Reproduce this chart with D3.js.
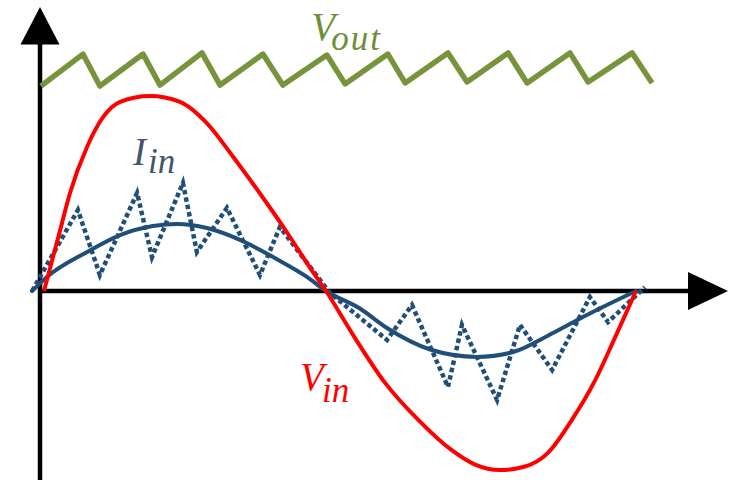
<!DOCTYPE html>
<html>
<head>
<meta charset="utf-8">
<script src="https://cdn.jsdelivr.net/npm/d3@7"></script>
<style>
  html, body { margin: 0; padding: 0; background: #fff; }
  svg { display: block; }
</style>
</head>
<body>
<div id="chart"></div>
<script>
"use strict";

// time in ms over one 20 ms mains period, values scaled so Vin peak = 1

// input voltage
var vinT = [0.1, 0.64, 0.97, 1.55, 2.08, 2.66, 3.66, 4.67, 5.58, 6.45, 7.36, 8.27, 9.04, 9.58,
            10.55, 11.56, 12.74, 13.75, 14.59, 15.43, 16.27, 17.04, 17.85, 18.62, 19.29, 20];
var vinV = [0, 0.31, 0.5, 0.74, 0.89, 0.97, 1.0, 0.97, 0.86, 0.69, 0.5, 0.3, 0.12, 0,
            -0.24, -0.47, -0.67, -0.81, -0.89, -0.918, -0.9, -0.83, -0.66, -0.46, -0.24, 0];

// input current, averaged
var iinT = [-0.3, 0.2, 1.55, 2.66, 3.76, 4.57, 5.58, 6.69, 7.8, 8.94, 9.58,
            10.72, 11.63, 13.08, 14.66, 15.87, 17.21, 18.35, 20];
var iinV = [0, 0.072, 0.2, 0.287, 0.333, 0.344, 0.323, 0.262, 0.174, 0.072, 0,
            -0.09, -0.19, -0.3, -0.338, -0.313, -0.215, -0.123, 0];

// input current with switching ripple
var rippleT = [-0.3, 1.24, 1.98, 3.23, 3.73, 4.77, 5.24, 6.25, 7.36, 8.03, 9.71,
               11.63, 12.47, 13.68, 14.15, 15.33, 16.1, 17.18, 18.45, 19.06, 20.3];
var rippleV = [0, 0.415, 0.082, 0.503, 0.174, 0.554, 0.2, 0.426, 0.082, 0.328, -0.01,
               -0.251, -0.072, -0.492, -0.174, -0.559, -0.174, -0.405, -0.031, -0.159, 0.02];

// output voltage sawtooth
var voutT = [0, 1.41, 1.98, 3.43, 4.0, 5.41, 6.02, 7.46, 8.13, 9.61, 10.22,
             11.66, 12.24, 13.68, 14.32, 15.7, 16.34, 17.78, 18.39, 19.87, 20.54];
var voutV = [1.051, 1.215, 1.051, 1.215, 1.056, 1.221, 1.056, 1.215, 1.056, 1.21, 1.062,
             1.215, 1.067, 1.221, 1.072, 1.221, 1.067, 1.221, 1.072, 1.221, 1.067];

// labels: main letter, subscript, anchor in data units
var labelMain = ["V", "I", "V"];
var labelSub = ["out", "in", "in"];
var labelT = [9.08, 3.09, 8.71];
var labelV = [1.287, 0.646, -0.508];
var labelColor = ["#6b8f35", "#44546a", "#ff0000"];

var width = 734, height = 480;

var svg = d3.select("#chart")
            .append("svg")
            .attr("width", width)
            .attr("height", height);

svg.append("rect").attr("width", width).attr("height", height).attr("fill", "#fff");

var x = d3.scaleLinear().domain([0, 20]).range([41, 636]);
var y = d3.scaleLinear().domain([0, 1]).range([291, 96]);

var zip = function(ts, vs) {
  return ts.map(function(t, i) { return [t, vs[i]]; });
};

// axes with arrow heads
var x0 = x(0) - 1, y0 = y(0);
svg.append("line")
   .attr("x1", x0).attr("x2", x0)
   .attr("y1", height + 2).attr("y2", 40)
   .attr("stroke", "#000").attr("stroke-width", 4.5);
svg.append("path")
   .attr("d", "M" + x0 + ",7 L" + (x0 - 19.5) + ",44.5 L" + (x0 + 19.5) + ",44.5 Z")
   .attr("fill", "#000");
svg.append("line")
   .attr("x1", x0 - 2).attr("x2", 692)
   .attr("y1", y0).attr("y2", y0)
   .attr("stroke", "#000").attr("stroke-width", 4.5);
svg.append("path")
   .attr("d", "M728," + y0 + " L688," + (y0 - 19) + " L688," + (y0 + 19) + " Z")
   .attr("fill", "#000");

var smooth = d3.line()
               .x(function(d) { return x(d[0]); })
               .y(function(d) { return y(d[1]); })
               .curve(d3.curveMonotoneX);

var straight = d3.line()
                 .x(function(d) { return x(d[0]); })
                 .y(function(d) { return y(d[1]); });

// output voltage
svg.append("path")
   .attr("d", straight(zip(voutT, voutV)))
   .attr("fill", "none")
   .attr("stroke", "#77933c")
   .attr("stroke-width", 5.5)
   .attr("stroke-linejoin", "round");

// ripple current
svg.append("path")
   .attr("d", straight(zip(rippleT, rippleV)))
   .attr("fill", "none")
   .attr("stroke", "#1f4e79")
   .attr("stroke-width", 4.5)
   .attr("stroke-dasharray", "4.5 3");

// average current
svg.append("path")
   .attr("d", smooth(zip(iinT, iinV)))
   .attr("fill", "none")
   .attr("stroke", "#1f4e79")
   .attr("stroke-width", 4)
   .attr("stroke-linecap", "round");

// input voltage
svg.append("path")
   .attr("d", smooth(zip(vinT, vinV)))
   .attr("fill", "none")
   .attr("stroke", "#ff0000")
   .attr("stroke-width", 4);

// labels
var subOffset = [[20, 10], [15, 8], [22, 12]];
labelMain.forEach(function(m, i) {
  var lx = x(labelT[i]), ly = y(labelV[i]);
  var t = svg.append("text")
             .attr("x", lx).attr("y", ly)
             .attr("fill", labelColor[i])
             .style("font-family", "'Liberation Serif', 'DejaVu Serif', serif")
             .style("font-style", "italic")
             .style("font-size", "39px")
             .text(m);
  t.append("tspan")
   .attr("x", lx + subOffset[i][0])
   .attr("y", ly + subOffset[i][1])
   .style("font-size", "35px")
   .style("letter-spacing", i === 0 ? "2px" : "0px")
   .text(labelSub[i]);
});
</script>
</body>
</html>
